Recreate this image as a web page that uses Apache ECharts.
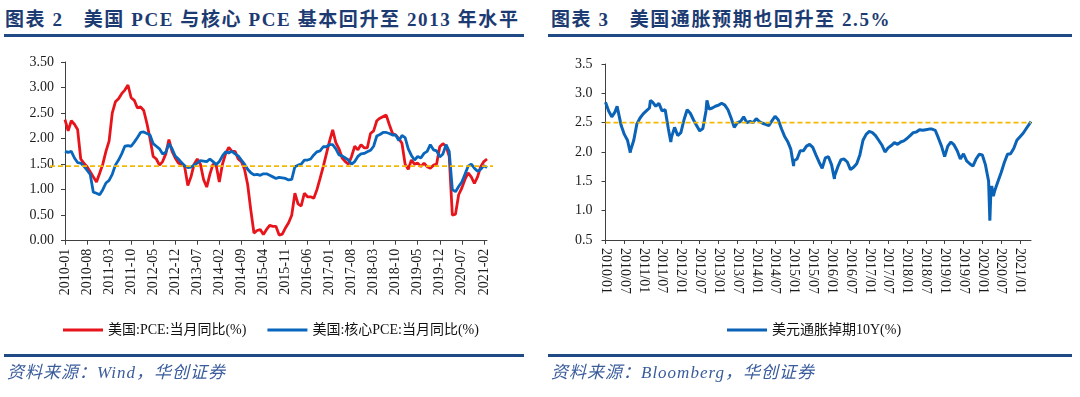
<!DOCTYPE html>
<html>
<head>
<meta charset="utf-8">
<script src="https://cdn.jsdelivr.net/npm/echarts@6/dist/echarts.min.js"></script>
<style>
  body { margin: 0; background: #fff; }
  #wrap { position: relative; width: 1080px; height: 397px; overflow: hidden;
          font-family: 'Liberation Serif', 'Noto Sans CJK SC', serif; }
  #chart { position: absolute; left: 0; top: 0; width: 1080px; height: 397px; }
  .title { position: absolute; top: 9px; font-size: 19px; line-height: 22px; font-weight: bold;
           color: #1c3b72; letter-spacing: 1.6px; white-space: nowrap; }
  .title .gap { display: inline-block; width: 20px; }
  .rule { position: absolute; height: 3px; background: #1f4a86; }
  .src { position: absolute; top: 363px; font-size: 17px; line-height: 20px; font-style: italic;
         color: #3a5c9c; letter-spacing: 1px; white-space: nowrap; }
</style>
</head>
<body>
<div id="wrap">
  <div class="title" style="left:5px;">图表 2<span class="gap"></span>美国 PCE 与核心 PCE 基本回升至 2013 年水平</div>
  <div class="title" style="left:551px;">图表 3<span class="gap"></span>美国通胀预期也回升至 2.5%</div>
  <div class="rule" style="left:4px;width:520px;top:34px;"></div>
  <div class="rule" style="left:548px;width:524px;top:34px;"></div>
  <div id="chart"></div>
  <div class="rule" style="left:4px;width:520px;top:354px;"></div>
  <div class="rule" style="left:548px;width:524px;top:354px;"></div>
  <div class="src" style="left:7px;">资料来源：Wind，华创证券</div>
  <div class="src" style="left:551px;">资料来源：Bloomberg，华创证券</div>
</div>
<script>
// 图表2：PCE 与核心 PCE 当月同比，2010-01 ~ 2021-03
const pceMonths = [];
for (let i = 0; i < 135; i++) {
  const y = 2010 + Math.floor(i / 12), m = i % 12 + 1;
  pceMonths.push(y + '-' + String(m).padStart(2, '0'));
}
const pceValues = [
  2.37, 2.15, 2.35, 2.28, 2.18, 1.6, 1.52, 1.45, 1.35, 1.25,
  1.15, 1.32, 1.5, 1.75, 1.95, 2.5, 2.72, 2.78, 2.88, 2.95,
  3.05, 2.8, 2.75, 2.6, 2.62, 2.55, 2.3, 2.0, 1.65, 1.6,
  1.48, 1.55, 1.7, 1.98, 1.75, 1.62, 1.52, 1.5, 1.45, 1.08,
  1.25, 1.5, 1.6, 1.5, 1.2, 1.05, 1.3, 1.5, 1.48, 1.15,
  1.5, 1.7, 1.83, 1.75, 1.75, 1.6, 1.55, 1.4, 1.1, 0.6,
  0.15, 0.2, 0.22, 0.12, 0.22, 0.3, 0.28, 0.28, 0.11, 0.13,
  0.25, 0.35, 0.5, 0.93, 0.72, 0.68, 0.93, 0.86, 0.86, 0.83,
  1.0, 1.22, 1.45, 1.7, 1.95, 2.17, 1.92, 1.8, 1.62, 1.55,
  1.5, 1.65, 1.85, 1.78, 1.88, 1.82, 1.82, 2.1, 2.15, 2.35,
  2.4, 2.43, 2.46, 2.27, 2.1, 2.07, 2.0, 1.91, 1.5, 1.4,
  1.58, 1.5, 1.52, 1.45, 1.52, 1.45, 1.42, 1.48, 1.5, 1.84,
  1.9, 1.85, 1.65, 0.5, 0.52, 0.9, 1.03, 1.2, 1.33, 1.25,
  1.12, 1.25, 1.45, 1.55, 1.6
];
const corePceValues = [
  1.75, 1.73, 1.75, 1.62, 1.53, 1.52, 1.46, 1.38, 1.3, 0.95,
  0.93, 0.9, 1.0, 1.13, 1.18, 1.3, 1.48, 1.58, 1.7, 1.85,
  1.86, 1.85, 1.93, 2.02, 2.12, 2.13, 2.1, 2.07, 1.9, 1.85,
  1.8, 1.7, 1.73, 1.9, 1.8, 1.66, 1.6, 1.53, 1.47, 1.43,
  1.44, 1.48, 1.52, 1.57, 1.56, 1.55, 1.6, 1.55, 1.49, 1.55,
  1.66, 1.74, 1.72, 1.75, 1.7, 1.66, 1.58, 1.5, 1.4, 1.33,
  1.29, 1.3, 1.28, 1.31, 1.31, 1.28, 1.25, 1.22, 1.24, 1.23,
  1.22, 1.19, 1.2, 1.45, 1.48, 1.5, 1.58, 1.58, 1.6, 1.68,
  1.74, 1.76, 1.84, 1.84, 1.88, 1.88, 1.8, 1.68, 1.66, 1.62,
  1.58, 1.5, 1.55, 1.65, 1.7, 1.71, 1.74, 1.77, 1.85, 2.05,
  2.08, 2.12, 2.12, 2.1, 2.07, 2.07, 1.96, 2.06, 2.02, 1.8,
  1.67, 1.58, 1.65, 1.62, 1.71, 1.75, 1.88, 1.78, 1.76, 1.64,
  1.7, 1.88, 1.75, 1.0, 0.96, 1.06, 1.15, 1.3, 1.46, 1.5,
  1.42, 1.36, 1.4, 1.47, 1.43
];
const pceRefLevel = 1.46;   // 2013 年水平（虚线）

// 图表3：美元通胀掉期10Y，每月月初取值 2010/01 ~ 2021/04
const beMonthly = [
  2.85, 2.7, 2.6, 2.68, 2.7, 2.45, 2.3, 2.2, 2.03, 2.2,
  2.48, 2.58, 2.65, 2.7, 2.75, 2.85, 2.78, 2.83, 2.7, 2.72,
  2.4, 2.25, 2.42, 2.28, 2.33, 2.55, 2.72, 2.66, 2.55, 2.45,
  2.36, 2.4, 2.7, 2.73, 2.75, 2.78, 2.8, 2.83, 2.8, 2.72,
  2.58, 2.42, 2.5, 2.52, 2.6, 2.5, 2.52, 2.5, 2.57, 2.52,
  2.49, 2.47, 2.45, 2.53, 2.61, 2.55, 2.4, 2.27, 2.18, 2.05,
  1.85, 1.88, 2.02, 2.02, 2.1, 2.13, 2.08, 1.95, 1.83, 1.72,
  1.9, 1.92, 1.78, 1.6, 1.75, 1.87, 1.88, 1.83, 1.7, 1.74,
  1.8, 1.95, 2.2, 2.3, 2.35, 2.33, 2.28, 2.2, 2.12, 2.0,
  2.07, 2.11, 2.16, 2.13, 2.17, 2.19, 2.23, 2.28, 2.33, 2.34,
  2.38, 2.37, 2.38, 2.39, 2.39, 2.37, 2.24, 2.1, 1.92, 2.1,
  2.17, 2.12, 2.02, 1.88, 1.97, 1.85, 1.8, 1.76, 1.88, 1.96,
  1.95, 1.78, 1.5, 1.42, 1.35, 1.5, 1.65, 1.82, 1.96, 1.97,
  2.06, 2.2, 2.26, 2.32, 2.4, 2.48
];
// 月内的尖峰
const beSpikeDates = ['2010-04-22', '2010-08-28', '2011-03-10', '2011-09-25', '2012-09-10',
  '2014-12-28', '2016-01-28', '2020-03-13', '2020-03-22', '2020-04-16', '2021-04-16'];
const beSpikeValues = [2.78, 1.99, 2.88, 2.17, 2.88, 1.76, 1.54, 0.83, 1.3, 1.25, 2.52];
const beRefLevel = 2.5;

const FONT = "'Liberation Serif', 'Noto Sans CJK SC', serif";

function toMonth(d) {
  const p = d.split('-').map(Number);
  return (p[0] - 2010) * 12 + (p[1] - 1) + (p[2] - 1) / 30;
}
function monthLabel(v) {
  const y = 2010 + Math.floor(v / 12), m = Math.round(v % 12) + 1;
  return y + '/' + String(m).padStart(2, '0');
}

const beData = beMonthly.map((v, i) => [i, v])
  .concat(beSpikeDates.map((d, i) => [toMonth(d), beSpikeValues[i]]))
  .sort((a, b) => a[0] - b[0]);
const beMax = toMonth('2021-04-16');
const beTicks = [];
for (let t = 0; t <= beMax; t += 6) beTicks.push(t);

const axisLineStyle = { lineStyle: { color: '#404040', width: 1 } };
const labelStyle = { color: '#1a1a1a', fontSize: 14, fontFamily: FONT };

const myechart = echarts.init(document.getElementById('chart'));
const option = {
  animation: false,
  grid: [
    { left: 65, top: 62, width: 422, height: 178.7 },
    { left: 605.5, top: 64, width: 425.5, height: 176 },
    { left: 50, top: 62, width: 443, height: 178.7 }
  ],
  legend: [
    {
      data: ['美国:PCE:当月同比(%)', '美国:核心PCE:当月同比(%)'],
      left: 58, top: 318, icon: 'rect', itemWidth: 40, itemHeight: 3, itemGap: 21,
      textStyle: { fontSize: 14, color: '#111', fontFamily: FONT }
    },
    {
      data: ['美元通胀掉期10Y(%)'],
      left: 722, top: 318, icon: 'rect', itemWidth: 40, itemHeight: 3,
      textStyle: { fontSize: 14, color: '#111', fontFamily: FONT }
    }
  ],
  xAxis: [
    {
      gridIndex: 0, type: 'category', data: pceMonths, boundaryGap: false,
      axisLine: axisLineStyle,
      axisTick: { interval: 6, length: 4, lineStyle: { color: '#404040' } },
      axisLabel: Object.assign({ interval: 6, rotate: 90, margin: 8 }, labelStyle)
    },
    {
      gridIndex: 1, type: 'value', min: 0, max: beMax,
      splitLine: { show: false },
      axisLine: axisLineStyle,
      axisTick: { customValues: beTicks, length: 4, lineStyle: { color: '#404040' } },
      axisLabel: Object.assign({ customValues: beTicks, rotate: -90, margin: 8,
        formatter: monthLabel }, labelStyle)
    },
    { gridIndex: 2, type: 'category', data: ['s', 'e'], boundaryGap: false, show: false }
  ],
  yAxis: [
    {
      gridIndex: 0, type: 'value', min: 0, max: 3.5, interval: 0.5,
      splitLine: { show: false },
      axisLine: Object.assign({ show: true }, axisLineStyle),
      axisTick: { show: true, length: 4, lineStyle: { color: '#404040' } },
      axisLabel: Object.assign({ margin: 11, formatter: v => v.toFixed(2) }, labelStyle)
    },
    {
      gridIndex: 1, type: 'value', min: 0.5, max: 3.5, interval: 0.5,
      splitLine: { show: false },
      axisLine: Object.assign({ show: true }, axisLineStyle),
      axisTick: { show: true, length: 4, lineStyle: { color: '#404040' } },
      axisLabel: Object.assign({ margin: 13, formatter: v => v.toFixed(1) }, labelStyle)
    },
    { gridIndex: 2, type: 'value', min: 0, max: 3.5, show: false }
  ],
  series: [
    {
      name: '美国:PCE:当月同比(%)', type: 'line', xAxisIndex: 0, yAxisIndex: 0,
      data: pceValues, showSymbol: false, color: '#e8141c',
      lineStyle: { width: 2.8, color: '#e8141c' }
    },
    {
      name: '美国:核心PCE:当月同比(%)', type: 'line', xAxisIndex: 0, yAxisIndex: 0,
      data: corePceValues, showSymbol: false, color: '#0866bd',
      lineStyle: { width: 2.8, color: '#0866bd' }
    },
    {
      name: 'pceRef', type: 'line', xAxisIndex: 2, yAxisIndex: 2,
      data: [pceRefLevel, pceRefLevel], showSymbol: false, silent: true, z: 5,
      lineStyle: { width: 1.6, color: '#f5b800', type: [5, 3] }
    },
    {
      name: '美元通胀掉期10Y(%)', type: 'line', xAxisIndex: 1, yAxisIndex: 1,
      data: beData, showSymbol: false, color: '#0a63b7',
      lineStyle: { width: 3, color: '#0a63b7' }
    },
    {
      name: 'beRef', type: 'line', xAxisIndex: 1, yAxisIndex: 1,
      data: [[0, beRefLevel], [beMax, beRefLevel]], showSymbol: false, silent: true, z: 5,
      lineStyle: { width: 1.6, color: '#f5b800', type: [5, 3] }
    }
  ]
};
myechart.setOption(option);
</script>
</body>
</html>
